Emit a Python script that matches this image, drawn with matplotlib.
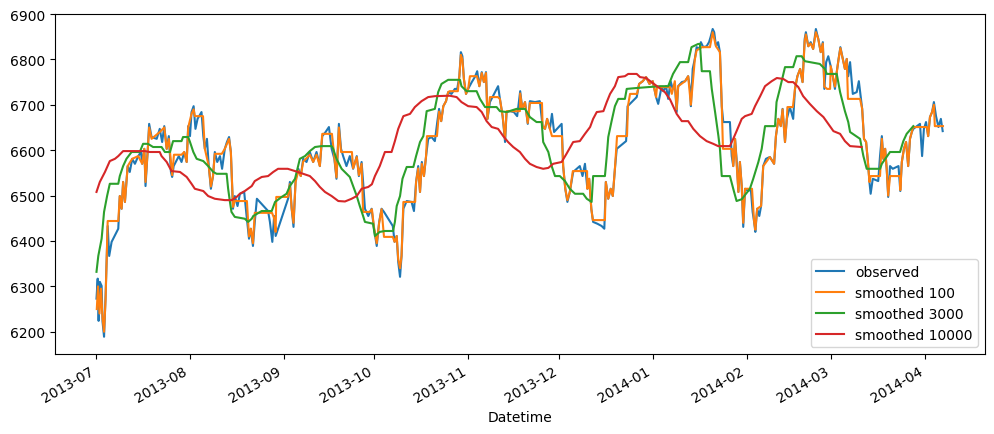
import numpy as np
import pandas as pd
import matplotlib
matplotlib.use("Agg")
import matplotlib.pyplot as plt

START = pd.Timestamp("2013-07-01")

# observed series (days since 2013-07-01, index level)
obs_days = [0.2, 0.6, 0.9, 1.3, 1.9, 2.2, 2.7, 3.2, 3.9, 4.4, 5.2, 7.4, 7.9, 8.5, 9.0, 9.6,
            10.5, 11.2, 12.0, 12.9, 14.0, 14.9, 15.3, 16.0, 16.4, 17.1, 17.6, 18.4, 20.1,
            21.1, 21.9, 22.6, 23.4, 24.1, 24.8, 25.2, 25.7, 27.4, 28.3, 29.2, 30.0, 30.5,
            31.1, 31.6, 32.3, 32.9, 33.6, 34.9, 35.5, 36.0, 36.7, 37.3, 38.0, 38.7, 39.3,
            40.1, 41.0, 41.7, 42.6, 43.3, 44.0, 44.6, 45.3, 45.9, 46.8, 47.6, 49.0, 49.8,
            50.6, 51.2, 51.9, 52.5, 53.2, 56.9, 57.5, 58.3, 58.9, 59.4, 63.5, 64.1, 64.7,
            65.3, 66.0, 66.9, 67.7, 68.5, 69.6, 70.7, 71.8, 72.9, 74.0, 74.8, 75.9, 77.0,
            77.9, 78.8, 79.5, 80.3, 81.0, 81.7, 82.8, 83.9, 85.0, 86.2, 86.9, 87.8, 88.3,
            88.9, 90.0, 91.1, 91.9, 92.8, 93.6, 94.4, 95.2, 98.1, 98.7, 99.4, 99.9, 100.5,
            101.0, 101.6, 102.7, 104.3, 105.1, 105.8, 106.5, 107.1, 107.7, 108.4, 109.1,
            109.8, 110.9, 112.0, 112.8, 113.4, 114.1, 114.8, 115.7, 116.4, 117.5, 118.6,
            119.4, 120.1, 120.6, 121.1, 121.6, 122.3, 123.0, 124.2, 125.2, 126.0, 126.7,
            127.5, 128.2, 128.9, 129.4, 130.2, 132.9, 133.5, 134.4, 135.2, 135.7, 136.8,
            138.1, 139.2, 140.2, 140.9, 141.8, 142.7, 143.4, 145.1, 146.7, 147.6, 148.4,
            149.1, 150.0, 150.7, 151.4, 153.9, 154.4, 155.1, 155.8, 156.6, 157.7, 158.9,
            159.9, 160.8, 161.6, 162.4, 163.0, 163.7, 164.3, 165.7, 167.1, 168.0, 168.5,
            169.3, 170.1, 170.8, 171.5, 172.1, 175.2, 175.7, 178.7, 179.5, 180.7, 181.8,
            182.9, 184.0, 185.1, 185.8, 186.9, 187.5, 188.4, 189.1, 189.9, 190.6, 191.3,
            191.9, 192.4, 193.6, 194.7, 195.7, 196.3, 196.6, 197.2, 197.9, 198.5, 199.4,
            199.9, 200.7, 201.8, 202.6, 203.1, 203.8, 204.3, 204.9, 205.6, 206.2, 206.8,
            207.3, 209.5, 210.1, 210.6, 211.2, 211.7, 212.3, 212.8, 213.4, 213.9, 214.5,
            215.6, 216.4, 217.0, 217.5, 217.9, 218.5, 219.2, 219.8, 220.5, 221.4, 222.7,
            224.1, 224.7, 225.5, 226.3, 226.9, 227.7, 228.3, 229.3, 230.4, 231.0, 231.8,
            232.7, 233.5, 234.2, 234.6, 235.4, 236.2, 237.0, 237.9, 238.7, 239.5, 240.2,
            240.7, 241.3, 242.0, 242.8, 243.5, 244.2, 244.8, 245.4, 246.0, 246.8, 247.5,
            248.1, 248.6, 249.2, 250.1, 251.4, 252.1, 252.7, 253.2, 253.8, 254.5, 255.1,
            255.6, 256.0, 256.7, 258.5, 259.1, 259.7, 260.2, 260.8, 261.3, 261.8, 262.4,
            263.3, 265.2, 265.8, 266.3, 267.0, 267.7, 268.4, 269.0, 269.6, 270.1, 272.3,
            273.0, 273.6, 274.3, 275.0, 275.6, 276.3, 276.9, 277.6, 278.4, 279.2, 279.8]
obs_vals = [6273, 6317, 6224, 6310, 6301, 6222, 6189, 6279, 6433, 6367, 6398, 6427, 6499, 6471,
            6530, 6486, 6565, 6552, 6581, 6570, 6587, 6596, 6570, 6603, 6521, 6596, 6658, 6629,
            6625, 6647, 6618, 6653, 6603, 6631, 6552, 6541, 6565, 6587, 6574, 6596, 6574, 6653,
            6631, 6684, 6697, 6647, 6669, 6684, 6631, 6603, 6625, 6565, 6515, 6543, 6596, 6574,
            6587, 6559, 6603, 6618, 6629, 6596, 6471, 6499, 6477, 6504, 6508, 6455, 6405, 6427,
            6389, 6442, 6493, 6466, 6442, 6398, 6455, 6411, 6493, 6530, 6471, 6431, 6537, 6559,
            6543, 6581, 6574, 6596, 6574, 6596, 6565, 6631, 6640, 6651, 6603, 6581, 6537, 6658,
            6603, 6587, 6565, 6587, 6559, 6587, 6543, 6574, 6530, 6471, 6455, 6471, 6427, 6389,
            6442, 6471, 6464, 6433, 6398, 6411, 6354, 6321, 6367, 6471, 6488, 6486, 6466, 6530,
            6565, 6508, 6574, 6543, 6587, 6625, 6629, 6620, 6662, 6691, 6664, 6697, 6708, 6728,
            6724, 6735, 6735, 6763, 6816, 6807, 6757, 6724, 6735, 6750, 6761, 6774, 6741, 6772,
            6750, 6772, 6669, 6706, 6741, 6713, 6675, 6618, 6684, 6686, 6684, 6675, 6730, 6691,
            6706, 6658, 6708, 6706, 6708, 6653, 6647, 6669, 6647, 6680, 6640, 6658, 6565, 6515,
            6486, 6508, 6552, 6559, 6565, 6543, 6570, 6515, 6537, 6471, 6442, 6438, 6433, 6427,
            6530, 6493, 6515, 6499, 6559, 6603, 6620, 6697, 6717, 6746, 6752, 6761, 6746, 6752,
            6717, 6702, 6739, 6730, 6741, 6713, 6752, 6735, 6746, 6684, 6741, 6750, 6752, 6763,
            6735, 6697, 6779, 6801, 6827, 6823, 6838, 6827, 6829, 6838, 6849, 6867, 6860, 6829,
            6838, 6816, 6697, 6662, 6662, 6587, 6565, 6625, 6581, 6508, 6574, 6521, 6431, 6515,
            6510, 6515, 6464, 6442, 6420, 6471, 6455, 6477, 6565, 6581, 6585, 6570, 6631, 6669,
            6653, 6691, 6618, 6669, 6695, 6669, 6735, 6763, 6779, 6750, 6845, 6860, 6829, 6838,
            6823, 6867, 6845, 6816, 6838, 6735, 6794, 6807, 6785, 6763, 6735, 6772, 6801, 6827,
            6801, 6779, 6801, 6763, 6794, 6724, 6728, 6752, 6719, 6691, 6625, 6618, 6574, 6530,
            6504, 6537, 6532, 6587, 6631, 6581, 6603, 6559, 6497, 6565, 6559, 6565, 6510, 6574,
            6603, 6618, 6565, 6625, 6640, 6647, 6658, 6587, 6647, 6662, 6631, 6673, 6684, 6706,
            6675, 6651, 6669, 6642]

# smoothed 100
s100_days = [0.3, 0.7, 1.2, 1.7, 2.2, 2.7, 3.2, 3.9, 7.4, 7.9, 8.5, 9.0, 9.6, 10.5, 12.0, 14.0,
             15.3, 16.0, 16.4, 17.1, 17.6, 18.4, 21.1, 22.6, 23.4, 24.1, 25.2, 25.8, 28.3,
             29.2, 30.0, 30.5, 31.6, 32.3, 32.7, 35.4, 36.0, 37.3, 38.0, 38.7, 39.3, 41.6,
             42.6, 44.0, 44.6, 45.3, 45.9, 49.9, 50.6, 51.2, 51.9, 52.5, 58.2, 58.9, 59.4,
             59.6, 63.4, 64.1, 64.7, 65.3, 66.0, 66.9, 67.7, 68.5, 70.7, 71.8, 72.9, 74.0,
             74.8, 78.0, 78.8, 79.5, 80.3, 81.0, 84.6, 85.0, 86.2, 86.9, 87.8, 88.3, 90.5,
             91.2, 91.9, 92.8, 93.6, 94.4, 95.2, 98.1, 98.7, 99.4, 99.9, 100.5, 101.0, 101.6,
             105.5, 105.8, 106.5, 107.1, 107.7, 108.4, 109.1, 109.4, 112.7, 113.4, 114.1,
             114.8, 115.7, 116.4, 116.9, 119.6, 120.1, 120.6, 121.1, 121.6, 122.3, 123.0,
             123.6, 125.9, 126.7, 127.5, 128.2, 128.9, 129.4, 130.2, 132.8, 133.5, 134.4,
             135.2, 135.7, 140.1, 140.2, 140.9, 141.8, 142.7, 143.4, 147.4, 147.6, 148.4,
             149.1, 150.0, 150.7, 154.0, 154.4, 155.1, 155.8, 156.6, 157.6, 162.3, 162.4,
             163.0, 163.7, 164.2, 168.2, 168.5, 169.3, 170.1, 170.8, 171.5, 172.2, 175.5,
             175.8, 176.5, 178.8, 179.5, 180.7, 181.8, 182.9, 184.0, 185.1, 185.4, 189.7,
             190.3, 191.3, 191.9, 192.4, 194.7, 195.7, 196.6, 197.9, 198.5, 199.3, 200.3,
             202.9, 203.8, 204.9, 206.2, 206.8, 207.2, 210.2, 210.6, 211.2, 212.3, 212.8,
             213.4, 213.9, 214.5, 216.8, 217.5, 217.9, 218.5, 219.8, 220.5, 222.7, 224.1,
             224.7, 225.5, 226.3, 226.9, 227.7, 228.3, 228.5, 230.3, 231.0, 231.8, 232.7,
             233.5, 234.2, 234.6, 235.4, 236.2, 237.0, 237.9, 238.7, 239.5, 240.2, 240.7,
             241.6, 242.6, 242.8, 243.5, 244.2, 244.8, 245.4, 246.0, 246.8, 247.5, 248.1,
             248.5, 252.5, 253.2, 253.8, 254.5, 255.1, 255.6, 256.0, 259.1, 259.7, 260.2,
             260.8, 261.3, 261.8, 262.4, 265.7, 265.8, 266.3, 267.0, 267.7, 268.4, 269.0,
             269.6, 270.0, 274.6, 275.0, 275.6, 276.3, 276.9, 277.2, 279.9]
s100_vals = [6250, 6300, 6240, 6295, 6230, 6200, 6270, 6444, 6444, 6499, 6471, 6530, 6486, 6565,
             6581, 6587, 6570, 6603, 6530, 6596, 6650, 6625, 6640, 6650, 6603, 6625, 6545, 6590,
             6590, 6596, 6574, 6650, 6680, 6690, 6675, 6675, 6603, 6565, 6520, 6543, 6592, 6592,
             6603, 6625, 6596, 6475, 6488, 6488, 6410, 6427, 6395, 6462, 6462, 6450, 6420, 6497,
             6497, 6525, 6471, 6440, 6530, 6555, 6543, 6575, 6590, 6574, 6590, 6565, 6636, 6636,
             6585, 6540, 6650, 6596, 6596, 6560, 6585, 6545, 6570, 6464, 6464, 6470, 6430, 6395,
             6440, 6470, 6409, 6409, 6398, 6411, 6360, 6340, 6367, 6486, 6486, 6530, 6560, 6508,
             6570, 6543, 6587, 6631, 6631, 6685, 6664, 6697, 6708, 6728, 6730, 6730, 6763, 6810,
             6800, 6757, 6724, 6735, 6763, 6763, 6741, 6770, 6750, 6770, 6669, 6717, 6717, 6713,
             6675, 6625, 6686, 6686, 6725, 6691, 6706, 6660, 6704, 6704, 6653, 6647, 6669, 6647,
             6631, 6631, 6565, 6515, 6490, 6508, 6554, 6554, 6515, 6537, 6471, 6446, 6446, 6530,
             6493, 6515, 6499, 6559, 6631, 6631, 6697, 6724, 6724, 6746, 6752, 6761, 6746, 6752,
             6717, 6739, 6739, 6724, 6752, 6690, 6741, 6752, 6763, 6700, 6800, 6820, 6823, 6827,
             6827, 6860, 6829, 6816, 6700, 6603, 6603, 6565, 6625, 6508, 6574, 6521, 6440, 6515,
             6515, 6442, 6425, 6471, 6477, 6565, 6585, 6570, 6631, 6669, 6653, 6690, 6618, 6669,
             6695, 6695, 6735, 6763, 6779, 6750, 6840, 6855, 6829, 6835, 6823, 6860, 6845, 6816,
             6835, 6740, 6735, 6735, 6785, 6763, 6740, 6772, 6800, 6825, 6801, 6779, 6801, 6713,
             6713, 6691, 6625, 6618, 6574, 6530, 6543, 6543, 6625, 6581, 6603, 6559, 6500, 6543,
             6543, 6512, 6574, 6603, 6618, 6565, 6625, 6640, 6651, 6651, 6631, 6673, 6684, 6700,
             6653, 6653]

# smoothed 3000
s3000_days = [0.2, 0.8, 1.9, 2.7, 3.7, 4.6, 7.4, 7.9, 9.0, 10.1, 11.8, 14.5, 15.6, 17.2, 18.9,
              21.7, 22.8, 24.5, 25.5, 28.3, 28.8, 30.5, 31.1, 32.2, 33.3, 35.5, 37.1, 38.8,
              39.9, 43.2, 43.7, 44.3, 44.8, 45.9, 49.2, 50.3, 51.5, 52.0, 54.8, 58.1, 59.2,
              61.4, 63.0, 64.1, 65.8, 67.4, 69.1, 70.7, 72.4, 74.6, 77.9, 78.4, 79.5, 81.2,
              83.9, 85.0, 86.2, 87.2, 88.3, 88.9, 91.6, 92.2, 93.8, 95.5, 98.2, 98.8, 99.4,
              100.5, 101.3, 102.7, 104.9, 105.8, 107.1, 108.2, 109.3, 112.0, 113.1, 114.2,
              116.4, 120.3, 120.8, 122.5, 125.8, 126.9, 128.6, 132.4, 133.5, 135.7, 139.0,
              141.8, 143.4, 145.6, 147.3, 147.8, 149.5, 150.6, 151.7, 153.3, 155.0, 156.6,
              158.3, 161.0, 162.2, 163.8, 164.3, 168.2, 168.8, 169.3, 170.4, 171.5, 172.6,
              174.8, 175.4, 178.7, 186.4, 189.1, 190.7, 193.0, 195.7, 196.8, 199.0, 199.6,
              200.2, 202.9, 203.5, 204.6, 205.7, 206.2, 206.8, 209.5, 210.6, 211.7, 213.4,
              216.1, 217.2, 218.9, 220.0, 221.1, 224.4, 224.9, 226.0, 227.7, 230.4, 231.5,
              233.2, 234.3, 239.2, 240.9, 241.5, 244.8, 245.9, 247.5, 248.6, 249.2, 252.5,
              253.6, 254.7, 259.1, 259.7, 262.4, 265.7, 266.8, 267.9, 270.1]
s3000_vals = [6332, 6367, 6405, 6464, 6499, 6526, 6526, 6543, 6565, 6581, 6596, 6596, 6614, 6614,
              6607, 6607, 6596, 6596, 6620, 6620, 6629, 6629, 6618, 6596, 6581, 6576, 6565, 6552,
              6548, 6548, 6515, 6486, 6464, 6453, 6449, 6442, 6449, 6455, 6466, 6466, 6486, 6497,
              6504, 6521, 6537, 6581, 6587, 6598, 6607, 6609, 6609, 6603, 6581, 6559, 6541, 6521,
              6499, 6477, 6455, 6442, 6438, 6411, 6420, 6422, 6422, 6442, 6477, 6499, 6537, 6563,
              6563, 6587, 6618, 6631, 6686, 6691, 6728, 6746, 6755, 6755, 6741, 6730, 6730, 6713,
              6695, 6695, 6686, 6684, 6691, 6691, 6673, 6662, 6662, 6618, 6596, 6565, 6543, 6543,
              6532, 6515, 6504, 6504, 6493, 6486, 6543, 6543, 6587, 6629, 6664, 6697, 6713, 6713,
              6735, 6737, 6741, 6741, 6768, 6794, 6794, 6827, 6834, 6834, 6774, 6774, 6735, 6684,
              6631, 6603, 6543, 6543, 6515, 6488, 6492, 6515, 6537, 6574, 6603, 6653, 6653, 6706,
              6735, 6783, 6783, 6807, 6807, 6796, 6790, 6779, 6768, 6768, 6728, 6686, 6662, 6640,
              6625, 6587, 6559, 6559, 6570, 6596, 6596, 6620, 6636, 6653]

# smoothed 10000
s10000_days = [0.2, 1.3, 3.0, 4.6, 6.3, 7.4, 9.0, 16.2, 17.8, 21.1, 21.7, 23.4, 25.0, 27.8,
               30.0, 31.6, 32.7, 35.5, 37.1, 39.3, 42.6, 44.9, 46.5, 47.6, 49.2, 51.5, 52.5,
               54.8, 56.9, 58.6, 60.2, 63.4, 65.8, 68.5, 70.7, 72.4, 74.0, 75.7, 77.9, 80.1,
               82.3, 84.5, 86.2, 87.8, 90.0, 91.2, 92.2, 93.8, 95.5, 97.7, 98.8, 99.9, 101.6,
               103.8, 105.4, 107.6, 109.8, 112.0, 116.9, 119.2, 120.8, 123.0, 125.8, 127.5,
               129.1, 130.8, 132.9, 134.6, 136.2, 137.9, 140.1, 141.8, 143.4, 145.6, 147.8,
               149.5, 151.1, 153.9, 155.5, 157.7, 159.9, 161.6, 163.3, 164.3, 165.5, 167.7,
               168.8, 169.9, 171.5, 172.6, 174.8, 175.9, 178.7, 179.8, 181.8, 183.6, 185.8,
               188.0, 189.7, 191.9, 193.6, 195.7, 197.4, 199.6, 201.8, 204.0, 205.6, 209.5,
               210.6, 211.7, 213.4, 214.5, 216.7, 217.8, 219.5, 221.1, 223.3, 225.0, 227.1,
               228.8, 230.4, 232.1, 233.7, 235.9, 238.2, 240.4, 242.0, 243.7, 245.9, 247.5,
               249.2, 253.0]
s10000_vals = [6508, 6530, 6552, 6576, 6581, 6587, 6598, 6598, 6596, 6596, 6587, 6574, 6554, 6552,
               6541, 6526, 6515, 6510, 6499, 6493, 6490, 6490, 6497, 6504, 6510, 6521, 6532, 6541,
               6543, 6552, 6559, 6559, 6554, 6548, 6543, 6532, 6519, 6508, 6499, 6488, 6487, 6493,
               6499, 6515, 6519, 6525, 6543, 6565, 6596, 6596, 6620, 6647, 6675, 6680, 6695, 6708,
               6717, 6719, 6720, 6717, 6706, 6697, 6695, 6684, 6664, 6651, 6647, 6631, 6618, 6607,
               6596, 6581, 6570, 6563, 6559, 6561, 6570, 6574, 6592, 6618, 6620, 6636, 6651, 6669,
               6684, 6686, 6706, 6724, 6741, 6761, 6763, 6768, 6768, 6761, 6759, 6750, 6739, 6728,
               6712, 6680, 6664, 6664, 6647, 6631, 6620, 6614, 6609, 6609, 6625, 6642, 6669, 6675,
               6680, 6697, 6719, 6741, 6752, 6759, 6757, 6750, 6750, 6739, 6719, 6702, 6686, 6673,
               6658, 6642, 6636, 6620, 6609, 6607]


def to_dates(days):
    return START + pd.to_timedelta(np.asarray(days), unit="D")


def main():
    fig = plt.figure(figsize=(9.95, 4.35), dpi=100)
    ax = fig.add_axes([0.0553, 0.1839, 0.9347, 0.7816])

    ax.plot(to_dates(obs_days), obs_vals, label="observed")
    ax.plot(to_dates(s100_days), s100_vals, label="smoothed 100")
    ax.plot(to_dates(s3000_days), s3000_vals, label="smoothed 3000")
    ax.plot(to_dates(s10000_days), s10000_vals, label="smoothed 10000")

    ax.set_xlim(START - pd.Timedelta(days=13.5), START + pd.Timedelta(days=293.8))
    ax.set_ylim(6151, 6900)
    ax.set_xlabel("Datetime")
    ax.legend(loc="lower right")
    for lbl in ax.get_xticklabels():
        lbl.set_rotation(30)
        lbl.set_ha("right")

    fig.savefig("out.png", dpi=100)


if __name__ == "__main__":
    main()
